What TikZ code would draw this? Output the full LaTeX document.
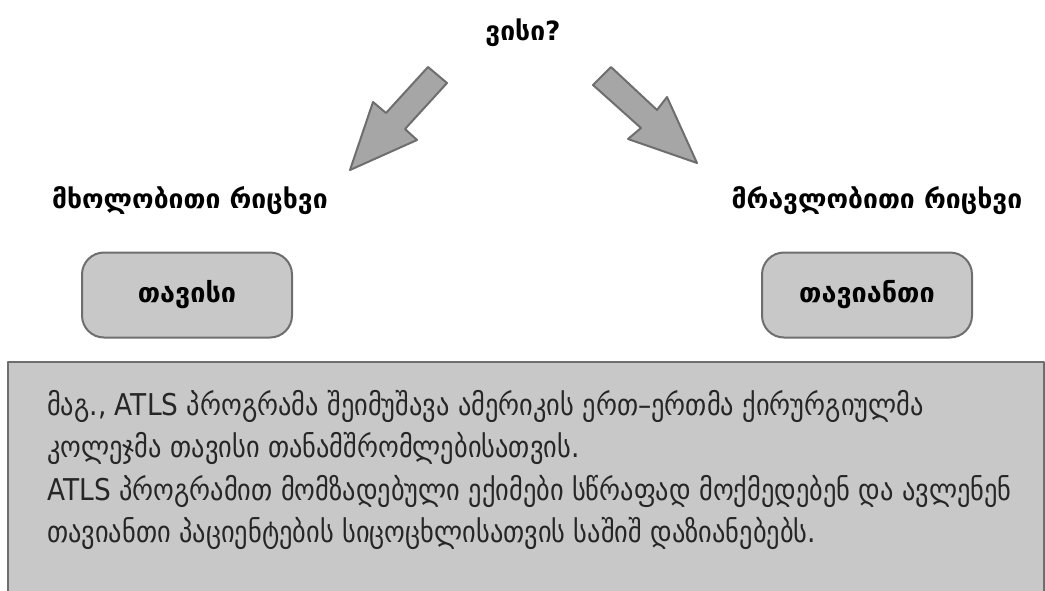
\documentclass[tikz,border=0pt]{standalone}
\usepackage{fontspec}
\setmainfont{DejaVu Sans}
\newfontfamily\bodyfont{DejaVu Sans}[FakeStretch=0.88]
\definecolor{edgegray}{HTML}{6E6E6E}
\definecolor{boxgray}{HTML}{C8C8C8}
\definecolor{arrowgray}{HTML}{A6A6A6}
\definecolor{inkgray}{HTML}{262626}
\begin{document}
\begin{tikzpicture}[x=1pt,y=-1pt, line join=round,
		title/.style={font=\bfseries\fontsize{26.5}{30}\selectfont},
		pill/.style={draw=edgegray, fill=boxgray, line width=2pt, rounded corners=22pt,
			minimum width=210pt, minimum height=85pt, font=\bfseries\fontsize{27}{30}\selectfont},
		bigarrow/.style={draw=edgegray, fill=arrowgray, line width=2pt}]
	\useasboundingbox (0,0) rectangle (1045,590);
	% question and the two arrows
	\node[title] (whose) at (523,33) {ვისი?};
	\draw[bigarrow] (428,67)--(447,83)--(405,129)--(417,140)--(350,170)--(373,102)--(386,113)--cycle;
	\draw[bigarrow] (611,67)--(593,85)--(641,128)--(628,139)--(697,163)--(667,97)--(657,110)--cycle;
	% singular / plural
	\node[title] (sing) at (190,201) {მხოლობითი რიცხვი};
	\node[title] (plur) at (877,201) {მრავლობითი რიცხვი};
	\node[pill] (own) at (187,295) {თავისი};
	\node[pill] (theirs) at (867,295) {თავიანთი};
	% example box
	\draw[draw=edgegray, fill=boxgray, line width=2pt] (8,362) rectangle (1044,640);
	\node[anchor=north west, inner sep=0pt, align=left, text=inkgray,
		font=\bodyfont\fontsize{30}{42.5}\selectfont] (example) at (47,390)
		{მაგ., ATLS პროგრამა შეიმუშავა ამერიკის ერთ–ერთმა ქირურგიულმა\\
		კოლეჯმა თავისი თანამშრომლებისათვის.\\
		ATLS პროგრამით მომზადებული ექიმები სწრაფად მოქმედებენ და ავლენენ\\
		თავიანთი პაციენტების სიცოცხლისათვის საშიშ დაზიანებებს.};
\end{tikzpicture}
\end{document}
